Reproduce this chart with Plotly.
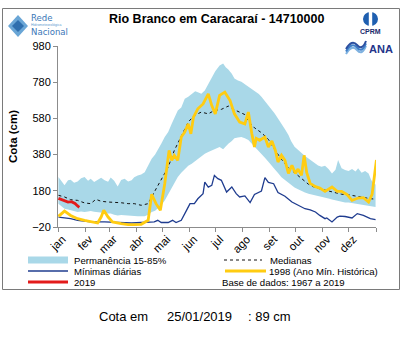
import plotly.graph_objects as go

# ---------------- data (day of year, cota in cm) ----------------
band_days = [1, 5, 8, 12, 15, 19, 23, 27, 31, 35, 38, 42, 46, 50, 54, 58, 61, 65,
             69, 73, 77, 81, 85, 88, 92, 96, 100, 104, 108, 112, 115, 119, 123,
             127, 131, 135, 138, 142, 146, 150, 154, 158, 161, 165, 169, 173, 177,
             181, 186, 190, 193, 196, 200, 203, 207, 211, 215, 219, 223, 227, 231,
             234, 238, 242, 246, 249, 253, 257, 261, 265, 268, 272, 276, 280, 284,
             288, 292, 296, 299, 303, 307, 311, 315, 319, 322, 326, 330, 334, 338,
             342, 345, 349, 353, 357, 360, 363, 365]
band_upper = [256, 232, 210, 238, 241, 224, 232, 250, 256, 236, 247, 228, 240, 252,
              238, 230, 254, 236, 204, 240, 247, 232, 238, 255, 265, 270, 283, 320,
              357, 380, 403, 440, 477, 505, 550, 590, 624, 640, 688, 700, 716, 730,
              725, 716, 734, 770, 808, 840, 872, 883, 862, 850, 826, 800, 790, 782,
              768, 755, 740, 727, 715, 700, 676, 654, 630, 608, 580, 552, 520, 488,
              455, 424, 405, 387, 372, 359, 345, 332, 320, 313, 318, 300, 276, 296,
              350, 305, 295, 290, 300, 286, 305, 280, 290, 276, 240, 221, 215]
band_lower = [109, 95, 81, 76, 72, 66, 63, 66, 63, 65, 68, 64, 63, 58, 57, 55, 54,
              48, 44, 46, 44, 41, 39, 40, 39, 40, 39, 48, 63, 70, 81, 100, 127, 160,
              201, 232, 256, 280, 302, 318, 330, 345, 357, 372, 385, 395, 403, 415,
              422, 410, 428, 440, 455, 470, 475, 477, 470, 460, 440, 420, 402, 385,
              362, 340, 320, 300, 278, 255, 240, 225, 210, 198, 188, 178, 170, 164,
              160, 155, 150, 146, 142, 137, 132, 127, 124, 118, 116, 115, 112, 109,
              108, 106, 103, 100, 96, 92, 90]

med_days = [1, 8, 15, 23, 31, 38, 44, 50, 58, 65, 73, 81, 88, 96, 104, 111, 119,
            127, 134, 142, 150, 157, 165, 173, 180, 188, 196, 202, 207, 215, 219,
            226, 234, 242, 249, 257, 265, 272, 280, 288, 296, 303, 311, 319, 326,
            334, 342, 349, 357, 365]
medianas = [155, 146, 131, 127, 113, 109, 133, 122, 118, 118, 114, 109, 109, 100,
            109, 173, 238, 311, 403, 477, 560, 596, 615, 605, 624, 630, 648, 630,
            620, 601, 565, 528, 501, 464, 409, 354, 308, 280, 253, 216, 197, 188,
            179, 170, 161, 158, 151, 142, 138, 133]

min_days = [1, 8, 15, 23, 38, 54, 73, 85, 96, 104, 111, 115, 119, 127, 132, 136,
            142, 148, 152, 157, 161, 167, 169, 173, 177, 180, 184, 188, 194, 200,
            205, 209, 215, 221, 226, 234, 238, 242, 248, 253, 261, 269, 276, 284,
            290, 296, 301, 307, 309, 315, 321, 324, 330, 338, 344, 351, 359, 365]
minimas = [35, 31, 26, 17, 8, 8, 5, 2, 5, 5, 8, 17, 5, 5, 17, 5, 17, 72, 109, 109,
           136, 164, 228, 200, 210, 265, 247, 238, 173, 201, 164, 146, 152, 115,
           160, 179, 253, 226, 219, 170, 150, 118, 100, 81, 75, 63, 44, 26, 30, 8,
           35, 40, 38, 30, 54, 44, 26, 21]

y1998_days = [1, 8, 15, 23, 31, 38, 46, 50, 53, 58, 63, 73, 81, 88, 96, 104, 108,
              113, 118, 123, 128, 131, 134, 138, 142, 146, 150, 153, 156, 161, 167,
              173, 177, 181, 186, 192, 198, 203, 209, 215, 219, 223, 226, 228, 232,
              238, 242, 246, 250, 253, 257, 261, 265, 269, 273, 276, 280, 283, 286,
              290, 296, 301, 307, 315, 321, 326, 332, 338, 345, 351, 357, 361, 364,
              366]
y1998 = [39, 68, 44, 26, 17, 8, 2, 35, 72, 35, 8, -2, -7, -7, -5, 17, 161, 109,
         72, 219, 403, 348, 375, 348, 477, 504, 550, 495, 587, 633, 660, 716, 651,
         605, 707, 725, 679, 605, 560, 550, 615, 495, 422, 470, 459, 477, 422, 455,
         403, 339, 376, 348, 276, 321, 276, 300, 265, 376, 280, 221, 203, 195, 177,
         201, 177, 177, 160, 127, 140, 142, 118, 160, 295, 350]

d2019_days = [1, 4, 8, 12, 16, 20, 23, 25]
d2019 = [138, 132, 126, 118, 120, 110, 96, 89]

# calendar
month_labels = ["jan", "fev", "mar", "abr", "mai", "jun",
                "jul", "ago", "set", "out", "nov", "dez"]
month_len = [31, 28, 31, 30, 31, 30, 31, 31, 30, 31, 30, 31]
y_ticks = [-20, 180, 380, 580, 780, 980]

# ---------------- geometry ----------------
W, H = 404, 339
L, R, T, B = 58, 28, 46, 112
PW, PH = W - L - R, H - T - B


def px(x):
    return (x - L) / PW


def py(y):
    return (H - B - y) / PH


edges = [0.5]
for n in month_len:
    edges.append(edges[-1] + n)
# rotated labels end in the first third of each month
label_pos = [a + 5 for a in edges[:-1]]

BAND = "#a9d8e8"
NAVY = "#1f3c8f"
GOLD = "#ffcc11"
RED = "#e31b1b"
FONT = "Liberation Sans, Arial, sans-serif"

fig = go.Figure()
fig.add_trace(go.Scatter(x=band_days, y=band_lower, mode="lines",
                         line=dict(width=0, color=BAND), hoverinfo="skip"))
fig.add_trace(go.Scatter(x=band_days, y=band_upper, mode="lines", fill="tonexty",
                         fillcolor=BAND, line=dict(width=0, color=BAND)))
fig.add_trace(go.Scatter(x=min_days, y=minimas, mode="lines",
                         line=dict(color=NAVY, width=1.3)))
fig.add_trace(go.Scatter(x=med_days, y=medianas, mode="lines",
                         line=dict(color="#111111", width=1, dash="dot")))
fig.add_trace(go.Scatter(x=y1998_days, y=y1998, mode="lines",
                         line=dict(color=GOLD, width=2.8)))
fig.add_trace(go.Scatter(x=d2019_days, y=d2019, mode="lines",
                         line=dict(color=RED, width=2.8)))

shapes = []
ann = []

# outer frame
shapes.append(dict(type="rect", xref="paper", yref="paper",
                   x0=px(2.5), x1=px(399.5), y0=py(289.5), y1=py(8.5),
                   line=dict(color="#7a7a7a", width=1), layer="below"))


# legend
def leg_line(x0, x1, y, **line):
    shapes.append(dict(type="line", xref="paper", yref="paper",
                       x0=px(x0), x1=px(x1), y0=py(y), y1=py(y), line=line))


def text_at(x, y, s, size=9.6, anchor="left", color="#000", family=FONT):
    ann.append(dict(x=px(x), y=py(y), xref="paper", yref="paper", text=s,
                    showarrow=False, xanchor=anchor, yanchor="middle",
                    font=dict(family=family, size=size, color=color)))


shapes.append(dict(type="rect", xref="paper", yref="paper", x0=px(28), x1=px(68),
                   y0=py(263.5), y1=py(256.5), fillcolor=BAND, line=dict(width=0)))
text_at(72, 260, "Permanência 15-85%")
leg_line(28, 68, 271, color=NAVY, width=1.3)
text_at(72, 271, "Mínimas diárias")
leg_line(28, 68, 282, color=RED, width=3)
text_at(72, 282, "2019")
leg_line(224, 262, 260, color="#111", width=1, dash="dot")
text_at(268, 260, "Medianas")
leg_line(225, 266, 271, color=GOLD, width=3)
text_at(267, 271, "1998 (Ano Mín. Histórica)")
text_at(220, 282, "Base de dados: 1967 a 2019")

# title and footer
text_at(216, 19, "<b>Rio Branco em Caracaraí - 14710000</b>", size=12.5,
        anchor="center")
text_at(97, 316, "Cota em", size=13)
text_at(165, 316, "25/01/2019", size=13)
text_at(246, 316, ": 89 cm", size=13)

# logo: Rede Hidrometeorológica Nacional
shapes.append(dict(type="path", xref="paper", yref="paper",
                   path=f"M {px(8)},{py(26)} L {px(18)},{py(15)} L {px(28)},{py(26)} "
                        f"L {px(18)},{py(37)} Z",
                   fillcolor="#6aa6d6", line=dict(width=0)))
shapes.append(dict(type="path", xref="paper", yref="paper",
                   path=f"M {px(12)},{py(26)} L {px(18)},{py(20)} L {px(24)},{py(26)} "
                        f"L {px(18)},{py(32)} Z",
                   fillcolor="#2f6fae", line=dict(width=0)))
text_at(29, 17.5, "Rede", size=9.5, color="#3b78b8",
        family="DejaVu Sans Condensed, sans-serif")
text_at(29, 24.5, "Hidrometeorológica", size=3.5, color="#5b9bd0")
text_at(29, 31, "Nacional", size=9.5, color="#3b78b8",
        family="DejaVu Sans Condensed, sans-serif")

# logo: CPRM
shapes.append(dict(type="circle", xref="paper", yref="paper", x0=px(363), x1=px(378),
                   y0=py(26), y1=py(12), fillcolor="#1f5fb0", line=dict(width=0)))
shapes.append(dict(type="rect", xref="paper", yref="paper", x0=px(368.8), x1=px(372.2),
                   y0=py(27), y1=py(11), fillcolor="white", line=dict(width=0)))
text_at(370.5, 32, "<b>CPRM</b>", size=7, anchor="center", color="#1a2a6c")

# logo: ANA
for k, c in enumerate(["#7fb2e0", "#3f7fc8", "#2b4fa0"]):
    shapes.append(dict(type="path", xref="paper", yref="paper",
                       path=f"M {px(346)},{py(54 - 2.5 * k)} Q {px(352)},{py(44 - 2.5 * k)} "
                            f"{px(357)},{py(50 - 2.5 * k)} T {px(366)},{py(46 - 2.5 * k)}",
                       line=dict(color=c, width=2)))
text_at(367, 49, "<b>ANA</b>", size=11, color="#24358a")

fig.update_layout(
    width=W, height=H, margin=dict(l=L, r=R, t=T, b=B),
    paper_bgcolor="white", plot_bgcolor="white", showlegend=False,
    shapes=shapes, annotations=ann,
    font=dict(family=FONT, size=11, color="#000"),
    xaxis=dict(range=[0.5, 365.5], tickvals=label_pos, ticktext=month_labels,
               tickangle=-45, ticks="", showgrid=False, zeroline=False,
               showline=True, linecolor="#8c8c8c", linewidth=1,
               tickfont=dict(size=11.5),
               minor=dict(tickvals=edges, ticks="outside", ticklen=4,
                          tickcolor="#8c8c8c", showgrid=False)),
    yaxis=dict(range=[-20, 980], tickvals=y_ticks, ticks="outside", ticklen=4,
               tickcolor="#8c8c8c", showgrid=False, zeroline=False, showline=True,
               linecolor="#8c8c8c", linewidth=1, tickfont=dict(size=11),
               title=dict(text="<b>Cota (cm)</b>", font=dict(size=11.5), standoff=12)),
)

fig.write_html("out.html")
